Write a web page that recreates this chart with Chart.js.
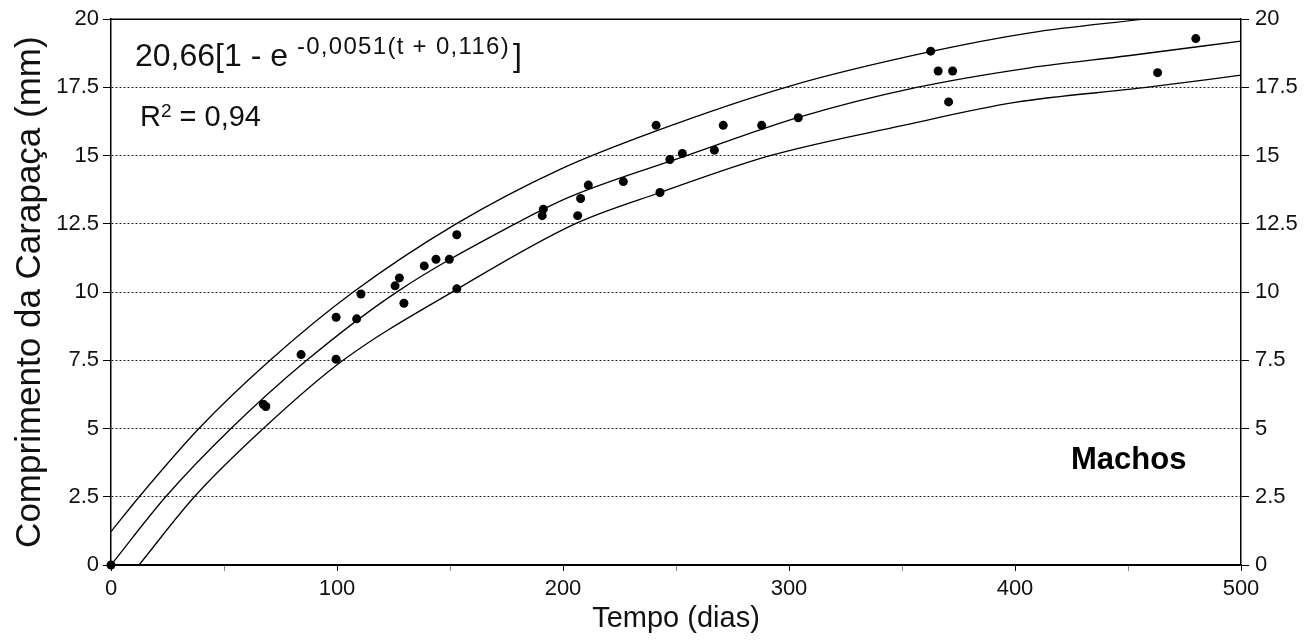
<!DOCTYPE html>
<html>
<head>
<meta charset="utf-8">
<script src="https://cdn.jsdelivr.net/npm/chart.js@4.4.1/dist/chart.umd.min.js"></script>
<style>
html,body{margin:0;padding:0;background:#fff;}
#wrap{width:1309px;height:642px;position:relative;}
</style>
</head>
<body>
<div id="wrap"><canvas id="c" width="1309" height="642"></canvas></div>
<script>
// Observed points (tempo em dias, comprimento da carapaça em mm)
const obsDays   = [0, 67.4, 68.5, 84.1, 99.6, 99.6, 108.7, 110.6, 125.7, 127.6, 129.6, 138.6, 143.8, 149.7, 153, 153, 190.8, 191.3, 206.5, 207.8, 211.2, 226.7, 241.2, 242.9, 247.3, 252.8, 267, 270.9, 287.9, 304.1, 362.7, 366, 372.4, 370.6, 463.1, 480];
const obsLength = [0, 5.89, 5.81, 7.71, 9.08, 7.54, 9.02, 9.93, 10.23, 10.52, 9.59, 10.96, 11.2, 11.2, 12.1, 10.12, 12.8, 13.04, 12.8, 13.43, 13.92, 14.05, 16.11, 13.65, 14.86, 15.08, 15.2, 16.11, 16.11, 16.39, 18.83, 18.1, 18.1, 16.97, 18.04, 19.29];

// Fitted curve
const fitDays   = [0, 24.2, 53.1, 86.6, 126.4, 178.8, 203, 254.7, 304.9, 356.5, 406.6, 450, 500];
const fitLength = [0, 2.5, 5, 7.5, 10, 12.5, 13.49, 15, 16.42, 17.5, 18.22, 18.66, 19.2];

// Upper band
const upperDays   = [0, 12.5, 38.9, 70.4, 107.2, 152.7, 198.7, 241, 300.4, 362, 406.6, 456.8];
const upperLength = [1.22, 2.5, 5, 7.5, 10, 12.5, 14.5, 15.9, 17.55, 18.8, 19.5, 20];

// Lower band
const lowerDays   = [12.4, 36.9, 67.4, 102.7, 153, 205.3, 243, 291.6, 350, 400, 458, 500];
const lowerLength = [0, 2.5, 5, 7.5, 10.1, 12.5, 13.65, 15, 16.1, 16.95, 17.5, 17.95];

const xTickLabels = [0, 100, 200, 300, 400, 500];
const yTickLabels = [0, 2.5, 5, 7.5, 10, 12.5, 15, 17.5, 20];

const FONT = '"Liberation Sans", Arial, sans-serif';

function pts(xs, ys){ return xs.map((x,i)=>({x:x, y:ys[i]})); }

const overlay = {
  id: 'overlay',
  afterDraw(chart){
    const ctx = chart.ctx, a = chart.chartArea;
    ctx.save();
    // top frame line
    ctx.strokeStyle = '#000'; ctx.lineWidth = 1.5;
    ctx.beginPath(); ctx.moveTo(a.left, a.top); ctx.lineTo(a.right, a.top); ctx.stroke();
    ctx.fillStyle = '#111';
    ctx.textBaseline = 'alphabetic';
    ctx.textAlign = 'left';
    // equation
    let x = 135, base = 66;
    ctx.font = '32px ' + FONT;
    const t1 = '20,66[1 - e ';
    ctx.fillText(t1, x, base); x += ctx.measureText(t1).width;
    ctx.font = '24px ' + FONT;
    ctx.letterSpacing = '1.3px';
    const t2 = '-0,0051(t + 0,116)';
    ctx.fillText(t2, x, base - 12); x += ctx.measureText(t2).width;
    ctx.letterSpacing = '0px';
    ctx.font = '32px ' + FONT;
    ctx.fillText(']', x + 3, base);
    // R2
    x = 140; base = 126;
    ctx.font = '29px ' + FONT;
    ctx.fillText('R', x, base); x += ctx.measureText('R').width;
    ctx.font = '19px ' + FONT;
    ctx.fillText('2', x, base - 9); x += ctx.measureText('2').width;
    ctx.font = '29px ' + FONT;
    ctx.fillText(' = 0,94', x, base);
    // label
    ctx.fillStyle = '#000';
    ctx.font = 'bold 31px ' + FONT;
    ctx.fillText('Machos', 1071, 469);
    ctx.restore();
  }
};

const yTickCb = v => yTickLabels.includes(v) ? String(v) : '';

new Chart(document.getElementById('c'), {
  type: 'scatter',
  data: {
    datasets: [
      { data: pts(upperDays, upperLength), showLine: true, borderColor: '#000', borderWidth: 1.3, pointRadius: 0, cubicInterpolationMode: 'monotone', fill: false },
      { data: pts(fitDays, fitLength), showLine: true, borderColor: '#000', borderWidth: 1.3, pointRadius: 0, cubicInterpolationMode: 'monotone', fill: false },
      { data: pts(lowerDays, lowerLength), showLine: true, borderColor: '#000', borderWidth: 1.3, pointRadius: 0, cubicInterpolationMode: 'monotone', fill: false },
      { data: pts(obsDays, obsLength), showLine: false, clip: false, pointRadius: 4.5, pointBackgroundColor: '#000', pointBorderWidth: 0, pointStyle: 'circle' }
    ]
  },
  options: {
    responsive: false,
    animation: false,
    devicePixelRatio: 1,
    layout: { padding: { top: 18, left: 0, right: 0, bottom: 0 } },
    plugins: { legend: { display: false }, tooltip: { enabled: false } },
    scales: {
      x: {
        type: 'linear', position: 'bottom', min: 0, max: 500,
        afterFit: s => { s.height = 77; },
        ticks: { stepSize: 50, padding: 5, color: '#111', font: { family: FONT, size: 22 },
                 callback: v => xTickLabels.includes(v) ? String(v) : '', maxRotation: 0, autoSkip: false },
        grid: { drawOnChartArea: false, drawTicks: true, tickLength: 6,
                tickColor: c => (c.tick && c.tick.value % 100 === 0) ? '#000' : '#888' },
        border: { display: true, color: '#000', width: 2 },
        title: { display: true, text: 'Tempo (dias)', color: '#111', font: { family: FONT, size: 29 }, padding: { top: 0, bottom: 6 } }
      },
      y: {
        type: 'linear', position: 'left', min: 0, max: 20,
        afterFit: s => { s.width = 111; },
        ticks: { stepSize: 2.5, padding: 4, color: '#111', font: { family: FONT, size: 22 }, callback: yTickCb },
        grid: { drawOnChartArea: true, drawTicks: true, tickLength: 8, color: '#222', lineWidth: 1, tickColor: '#000' },
        border: { display: true, color: '#000', width: 1.5, dash: [2, 2] },
        title: { display: true, text: 'Comprimento da Carapaça (mm)', color: '#111', font: { family: FONT, size: 35 }, padding: { top: 9, bottom: 0 } }
      },
      y2: {
        type: 'linear', position: 'right', min: 0, max: 20,
        afterFit: s => { s.width = 68; },
        ticks: { stepSize: 2.5, padding: 6, color: '#111', font: { family: FONT, size: 22 }, callback: yTickCb },
        grid: { drawOnChartArea: false, drawTicks: true, tickLength: 8, tickColor: '#000' },
        border: { display: true, color: '#000', width: 1.5 }
      }
    }
  },
  plugins: [overlay]
});
</script>
</body>
</html>
